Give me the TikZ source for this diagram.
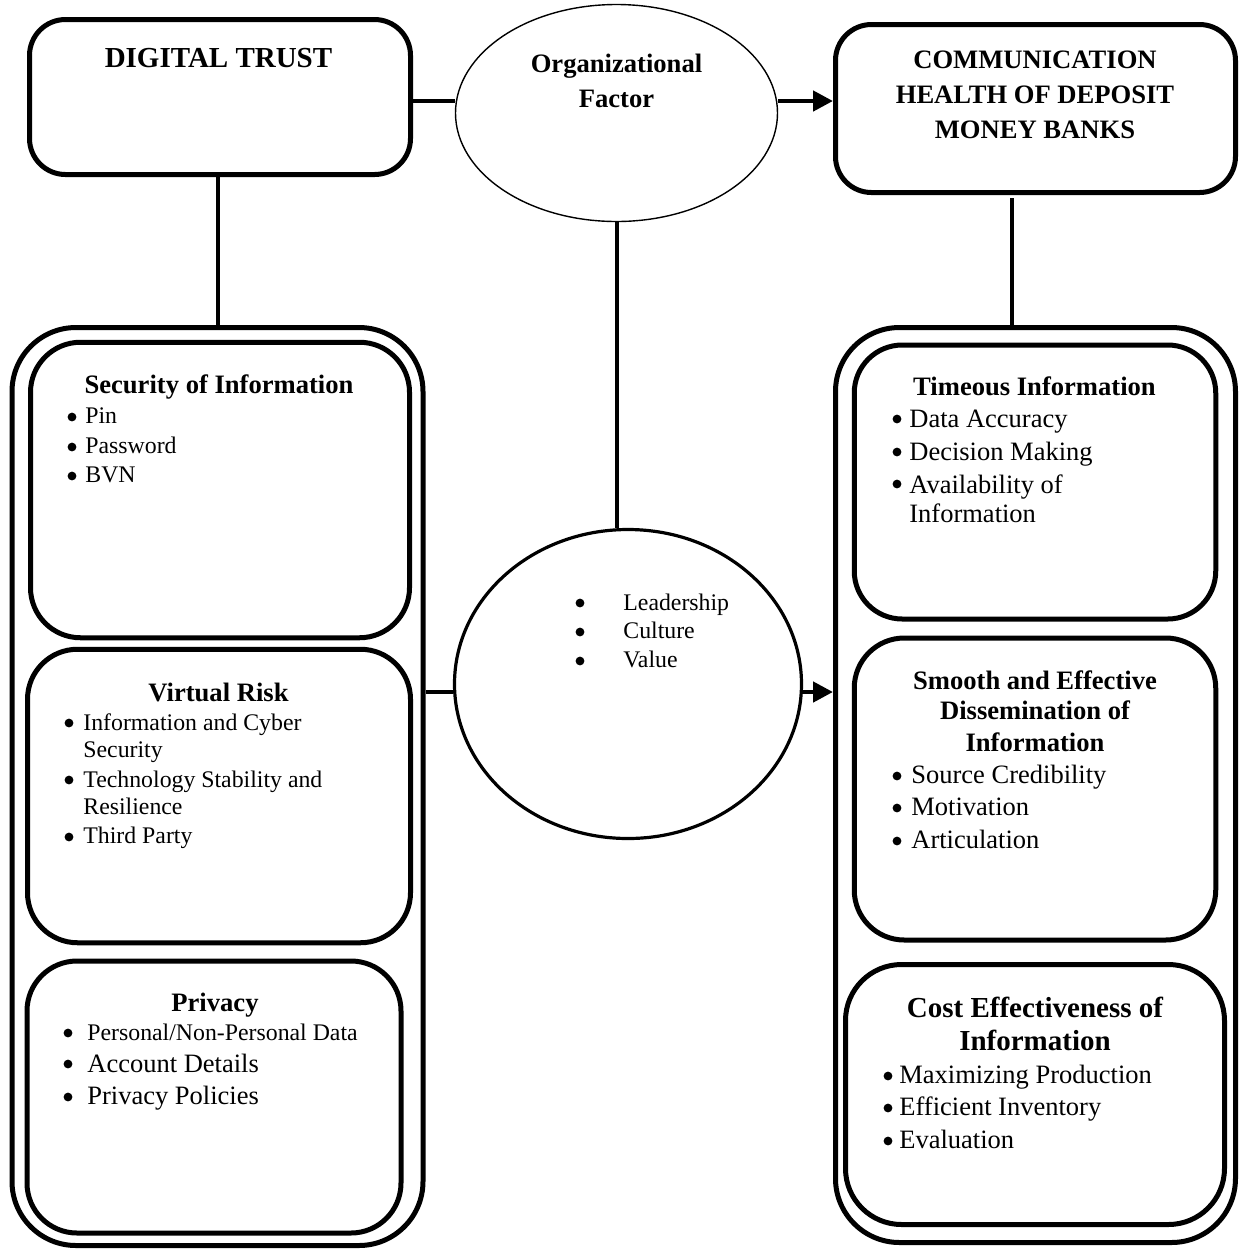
\documentclass[tikz,border=0pt]{standalone}
\usepackage{fontspec}
\setmainfont{Liberation Serif}
\usetikzlibrary{shapes.geometric,arrows.meta}
\newcommand\fA{\fontsize{11.9pt}{14pt}\selectfont}
\newcommand\fB{\fontsize{13.25pt}{16pt}\selectfont}
\newcommand\fH{\fontsize{13.3pt}{16pt}\selectfont\bfseries}
\newcommand\fG{\fontsize{14.5pt}{17pt}\selectfont\bfseries}
\begin{document}
\begin{tikzpicture}[x=0.5pt,y=-0.5pt,
  bx/.style={draw, line width=2.5pt, rectangle, inner sep=0pt},
  ctr/.style={inner sep=0pt, anchor=base},
  txt/.style={inner sep=0pt, anchor=base west},
  conn/.style={line width=2.3pt},
  vline/.style={line width=2pt},
  bul/.style={fill=black},
  arr/.style={conn, -{Triangle[length=10pt,width=10pt]}}]
\useasboundingbox (0,0) rectangle (1243,1250);
% top boxes
\node[bx, rounded corners=18pt, minimum width=190.5pt, minimum height=77.5pt] (dt) at (220,97) {};
\node[bx, rounded corners=18pt, minimum width=200pt, minimum height=84pt] (comm) at (1035.5,108.5) {};
\node[draw, ellipse, line width=0.7pt, inner sep=0pt, minimum width=161pt, minimum height=108.5pt] (ell) at (616.5,113) {};
\node[draw, ellipse, line width=1.6pt, inner sep=0pt, minimum width=173.5pt, minimum height=154.5pt] (circ) at (628,684) {};
% outer boxes
\node[bx, rounded corners=32pt, minimum width=205.5pt, minimum height=459pt] (lo) at (217.5,786.5) {};
\node[bx, rounded corners=32pt, minimum width=200pt, minimum height=457.5pt] (ro) at (1035.5,785) {};
% inner left
\node[bx, rounded corners=25pt, minimum width=189.5pt, minimum height=147.75pt] (sec) at (220,490) {};
\node[bx, rounded corners=25pt, minimum width=191.5pt, minimum height=146.75pt] (vr) at (219,796) {};
\node[bx, rounded corners=25pt, minimum width=187pt, minimum height=136pt] (prv) at (214,1097) {};
% inner right
\node[bx, rounded corners=24pt, minimum width=180.75pt, minimum height=137pt] (tim) at (1035,482) {};
\node[bx, rounded corners=25pt, minimum width=180.75pt, minimum height=151pt] (smo) at (1035,789) {};
\node[bx, rounded corners=28pt, minimum width=189.5pt, minimum height=130pt] (cst) at (1035,1094.5) {};
% titles
\node[ctr, font=\fG] (dtT) at (218.5,67) {DIGITAL TRUST};
\node[ctr, font=\fH] (orgA) at (616.5,72) {Organizational};
\node[ctr, font=\fH] (orgB) at (616.5,107) {Factor};
\node[ctr, font=\fH] (cmA) at (1035,68) {COMMUNICATION};
\node[ctr, font=\fH] (cmB) at (1035,103) {HEALTH OF DEPOSIT};
\node[ctr, font=\fH] (cmC) at (1035,138) {MONEY BANKS};
% security
\node[ctr, font=\fH] (secT) at (219,393) {Security of Information};
\node[txt, font=\fA] (sec1) at (85,423) {Pin};
\node[txt, font=\fA] (sec2) at (85,453) {Password};
\node[txt, font=\fA] (sec3) at (85,482) {BVN};
% virtual risk
\node[ctr, font=\fH] (vrT) at (218.5,701) {Virtual Risk};
\node[txt, font=\fA] (vr1) at (83,730) {Information and Cyber};
\node[txt, font=\fA] (vr2) at (83,757) {Security};
\node[txt, font=\fA] (vr3) at (83,787) {Technology Stability and};
\node[txt, font=\fA] (vr4) at (83,814) {Resilience};
\node[txt, font=\fA] (vr5) at (83,843) {Third Party};
% privacy
\node[ctr, font=\fH] (prT) at (215,1011) {Privacy};
\node[txt, font=\fA] (pr1) at (87,1040) {Personal/Non-Personal Data};
\node[txt, font=\fB] (pr2) at (87,1072) {Account Details};
\node[txt, font=\fB] (pr3) at (87,1104) {Privacy Policies};
% timeous
\node[ctr, font=\fH] (tiT) at (1034.5,395) {Timeous Information};
\node[txt, font=\fB] (ti1) at (909,427) {Data Accuracy};
\node[txt, font=\fB] (ti2) at (909,460) {Decision Making};
\node[txt, font=\fB] (ti3) at (909,493) {Availability of};
\node[txt, font=\fB] (ti4) at (909,522) {Information};
% smooth
\node[ctr, font=\fH] (smA) at (1035,689) {Smooth and Effective};
\node[ctr, font=\fH] (smB) at (1035,719) {Dissemination of};
\node[ctr, font=\fH] (smC) at (1035,751) {Information};
\node[txt, font=\fB] (sm1) at (911,783) {Source Credibility};
\node[txt, font=\fB] (sm2) at (911,815) {Motivation};
\node[txt, font=\fB] (sm3) at (911,848) {Articulation};
% cost
\node[ctr, font=\fG] (csA) at (1035,1017) {Cost Effectiveness of};
\node[ctr, font=\fG] (csB) at (1035,1050) {Information};
\node[txt, font=\fB] (cs1) at (899,1083) {Maximizing Production};
\node[txt, font=\fB] (cs2) at (899,1115) {Efficient Inventory};
\node[txt, font=\fB] (cs3) at (899,1148) {Evaluation};
% circle list
\node[txt, font=\fA] (ci1) at (623,610) {Leadership};
\node[txt, font=\fA] (ci2) at (623,638) {Culture};
\node[txt, font=\fA] (ci3) at (623,667) {Value};
% bullets
\foreach \bx/\by in {72/417, 72/447, 72/476,
                     69/723, 69/780, 69/837,
                     68/1033, 68/1064, 68/1097,
                     897/419, 897/452, 897/484,
                     897/776, 897/808, 897/841,
                     888/1076, 888/1108, 888/1141,
                     580/603, 580/632, 580/661}
  \fill[bul] (\bx,\by) circle (2.2pt);
% connectors
\draw[conn] (dt.east |- 0,101) -- (ell.west |- 0,101);
\draw[arr] (ell.east |- 0,101) -- (comm.west |- 0,101);
\draw[vline] (dt.south -| 218,0) -- (lo.north -| 218,0);
\draw[vline] (ell.south -| 617,0) -- (circ.north -| 617,0);
\draw[vline] (comm.south -| 1012,0) ++(0,3) -- (ro.north -| 1012,0);
\draw[conn] (lo.east |- 0,692) -- (circ.west |- 0,692);
\draw[arr] (circ.east |- 0,692) -- (ro.west |- 0,692);
\end{tikzpicture}
\end{document}
